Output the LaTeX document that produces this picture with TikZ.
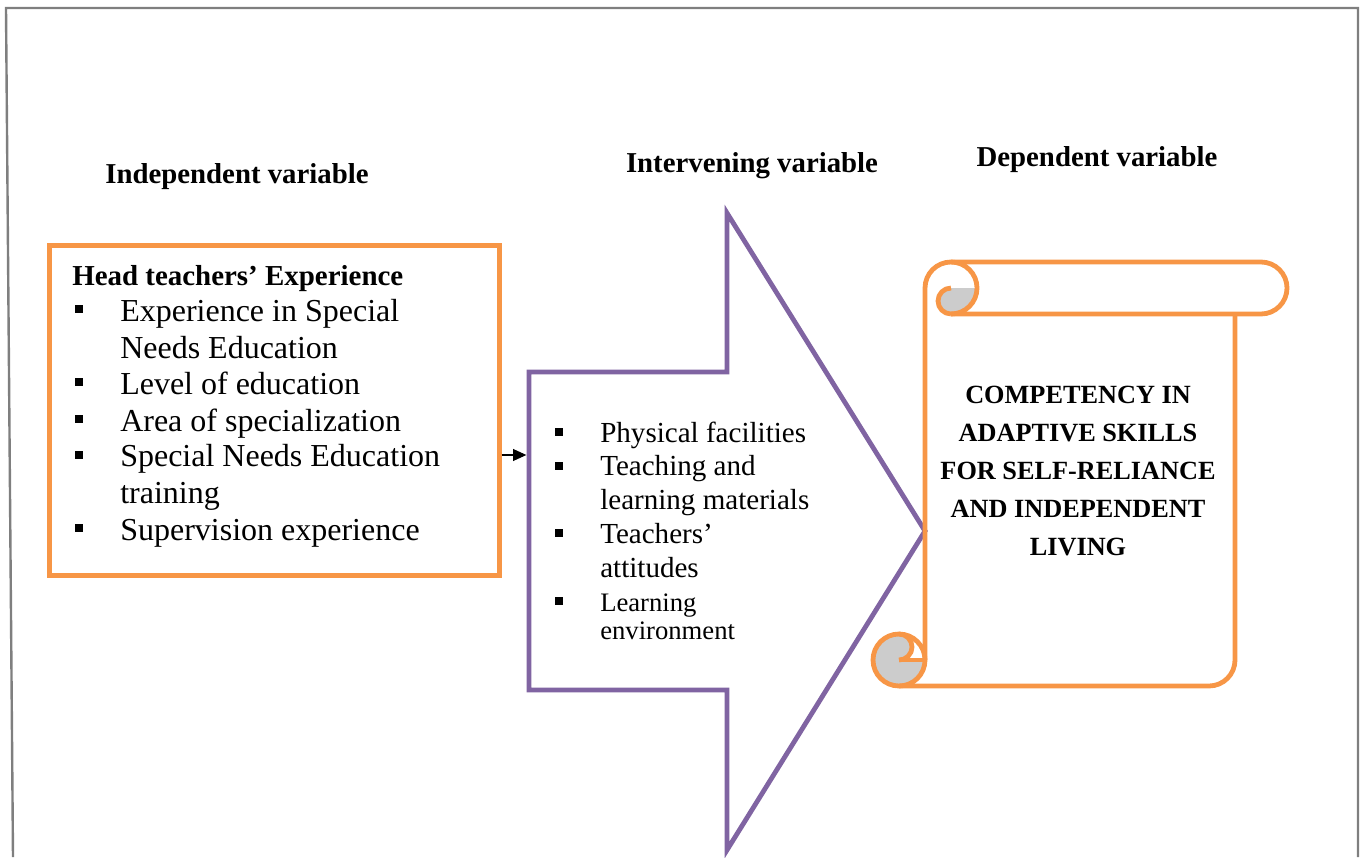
\documentclass[tikz,border=0pt]{standalone}
\usepackage{fontspec}
\setmainfont{Liberation Serif}
\usepackage{xcolor}
\usetikzlibrary{arrows.meta,positioning,calc}
\definecolor{framegray}{HTML}{7F7F7F}
\definecolor{accentorange}{HTML}{F79646}
\definecolor{accentpurple}{HTML}{8064A2}
\definecolor{curlgray}{HTML}{CCCCCC}
\tikzset{
  hdr/.style={anchor=base,inner sep=0pt,font=\bfseries\fontsize{21.6}{26}\selectfont},
  ivbox/.style={draw=accentorange,line width=3.75pt,fill=white,
                minimum width=337.5pt,minimum height=247.5pt,inner sep=0pt},
  boxtitle/.style={anchor=base west,inner sep=0pt,font=\bfseries\fontsize{21.7}{26}\selectfont},
  ivitem/.style={anchor=base west,inner sep=0pt,align=left,font=\fontsize{24}{27.75}\selectfont},
  mvitem/.style={anchor=base west,inner sep=0pt,align=left,font=\fontsize{21.8}{25.5}\selectfont},
  dot/.style={fill=black,inner sep=0pt,minimum size=6pt},
  mvline/.style={draw=accentpurple,line width=3.6pt,line join=miter},
  scrollline/.style={draw=accentorange,line width=3.6pt,line join=round},
  dvtext/.style={anchor=base,inner sep=0pt,align=center,
                 font=\bfseries\fontsize{19.7}{28.5}\selectfont},
  linkarr/.style={-{Triangle[length=10pt,width=9pt]},line width=0.8pt,shorten >=2pt}
}

\begin{document}
\begin{tikzpicture}[x=0.75pt,y=-0.75pt,>=Latex]
  \useasboundingbox (0,0) rectangle (1366,857);
  \draw[framegray,line width=1.8pt] (13,857) -- (6,8) -- (1358,8) -- (1358,857);

  % column headings
  \node[hdr] (ivhead) at (237,183) {Independent variable};
  \node[hdr] (mvhead) at (752,172) {Intervening variable};
  \node[hdr] (dvhead) at (1097,166) {Dependent variable};

  % independent variable box (item nodes sit on the baseline of their last line)
  \node[ivbox] (ivbox) at (274,410) {};
  \node[boxtitle] (ivtitle) at (72,285) {Head teachers’ Experience};
  \foreach \yb/\yl/\txt [count=\i] in {321/358/{Experience in Special\\Needs Education},
      394/394/{Level of education}, 431/431/{Area of specialization},
      467/503/{Special Needs Education\\training}, 540/540/{Supervision experience}} {
    \node[dot] (ivdot\i) at (79,\yb-12) {};
    \node[ivitem] (ivitem\i) at (120,\yl) {\txt};
  }

  % intervening variable arrow
  \draw[mvline] (529,372) -- (727,372) -- (727,213) -- (925,531)
    -- (727,850) -- (727,690) -- (529,690) -- cycle;
  \coordinate (mvtail) at (529,455);
  \draw[linkarr] (ivbox.east |- mvtail) -- (mvtail);
  \foreach \yb/\yl/\txt [count=\i] in {442/442/{Physical facilities},
      476/509/{Teaching and\\learning materials}, 543/577/{Teachers’\\attitudes}} {
    \node[dot] (mvdot\i) at (559,\yb-10) {};
    \node[mvitem] (mvitem\i) at (600,\yl) {\txt};
  }
  \node[dot] (mvdot4) at (559,601) {};
  \node[mvitem,font=\fontsize{20}{21}\selectfont] (mvitem4) at (600,639)
    {Learning\\environment};

  % dependent variable scroll
  \fill[curlgray] (951,288) -- (977,288) arc[start angle=0,end angle=90,radius=26]
    arc[start angle=90,end angle=270,radius=13] -- cycle;
  \fill[curlgray] (899,660) arc[start angle=90,end angle=-90,radius=13]
    arc[start angle=270,end angle=0,radius=26] -- cycle;
  \draw[scrollline] (925,660) -- (925,288) arc[start angle=180,end angle=270,radius=26]
    -- (1261,262) arc[start angle=270,end angle=450,radius=26] -- (951,314);
  \draw[scrollline] (951,262) arc[start angle=270,end angle=450,radius=26];
  \draw[scrollline] (951,314) arc[start angle=90,end angle=270,radius=13];
  \draw[scrollline] (1235,314) -- (1235,660) arc[start angle=0,end angle=90,radius=26]
    -- (899,686);
  \draw[scrollline] (899,660) circle[radius=26];
  \draw[scrollline] (899,660) arc[start angle=90,end angle=-90,radius=13];
  \draw[scrollline] (899,660) -- (925,660);
  \node[dvtext] (dvtext) at (1078,555)
    {COMPETENCY IN\\ADAPTIVE SKILLS\\FOR SELF-RELIANCE\\AND INDEPENDENT\\LIVING};
\end{tikzpicture}
\end{document}
